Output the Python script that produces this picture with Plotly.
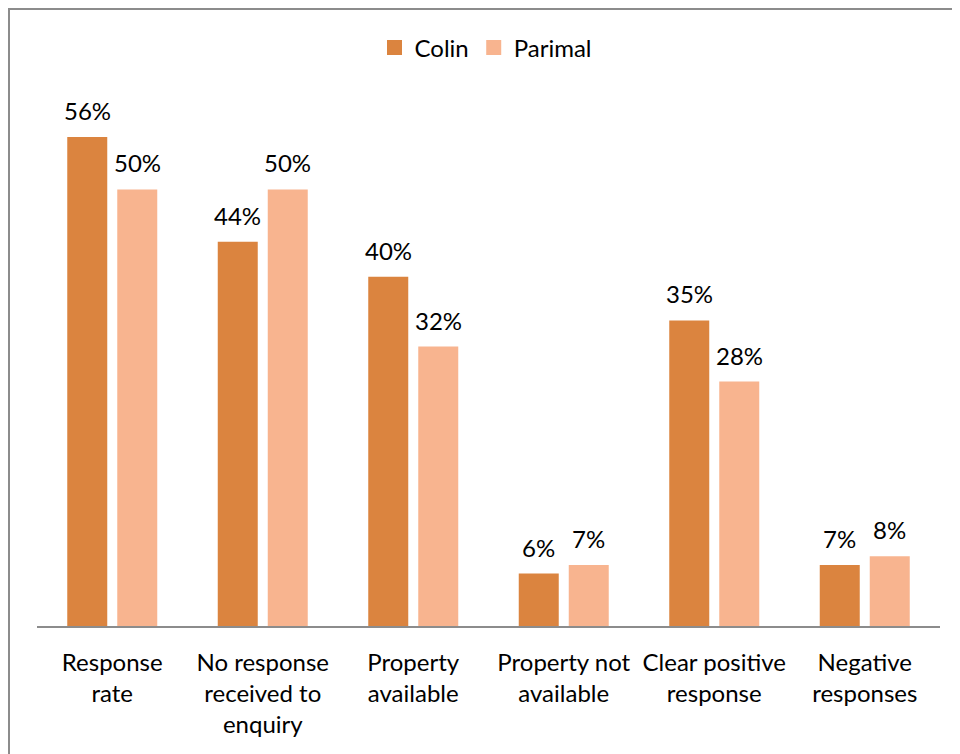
import plotly.graph_objects as go

categories = ["Response<br>rate", "No response<br>received to<br>enquiry", "Property<br>available",
              "Property not<br>available", "Clear positive<br>response", "Negative<br>responses"]
colin = [56, 44, 40, 6, 35, 7]
parimal = [50, 50, 32, 7, 28, 8]
series_names = ["Colin", "Parimal"]
colors = ["#DB843F", "#F8B48F"]

FONT = "Lato"
W, H = 952, 746
L, R, T, B = 29, 20, 92, 128
pw = W - L - R
ph = H - T - B
ymax = ph / (489 / 56)

fig = go.Figure()
for name, vals, col in zip(series_names, [colin, parimal], colors):
    fig.add_trace(go.Bar(x=categories, y=vals, name=name, showlegend=False,
                         marker=dict(color=col, line=dict(width=0))))
# legend entries with square swatches
for name, col in zip(series_names, colors):
    fig.add_trace(go.Scatter(x=[None], y=[None], mode="markers", name=name,
                             marker=dict(symbol="square", size=15, color=col)))

annotations = []
for vals, shift in [(colin, -25), (parimal, 25)]:
    for c, v in zip(categories, vals):
        annotations.append(dict(x=c, y=v, xref="x", yref="y", text=f"{v}%", showarrow=False,
                                xshift=shift, yshift=10, yanchor="bottom",
                                font=dict(family=FONT, size=24, color="#000000")))

x0 = (1 - L) / pw
x1 = (W + 5 - L) / pw
y1 = (H - 1 - B) / ph
y0 = (-5 - B) / ph

fig.update_layout(
    width=W, height=H,
    margin=dict(l=L, r=R, t=T, b=B),
    paper_bgcolor="white", plot_bgcolor="white",
    barmode="group", bargap=0.3355, bargroupgap=0.2,
    font=dict(family=FONT, size=24, color="#000000"),
    legend=dict(orientation="h", x=(478 - L) / pw, xanchor="center", y=(H - 40 - B) / ph, yanchor="middle",
                font=dict(family=FONT, size=24), traceorder="normal", itemwidth=30),
    annotations=annotations,
    shapes=[dict(type="rect", xref="paper", yref="paper", x0=x0, x1=x1, y0=y0, y1=y1,
                 line=dict(color="#8C8C8C", width=2), fillcolor="rgba(0,0,0,0)", layer="above")],
    xaxis=dict(showline=True, linecolor="#8C8C8C", linewidth=2, ticks="", showgrid=False,
               tickfont=dict(family=FONT, size=24), ticklabelstandoff=14),
    yaxis=dict(range=[0, ymax], visible=False, showgrid=False, zeroline=False),
)

fig.write_html("out.html")
